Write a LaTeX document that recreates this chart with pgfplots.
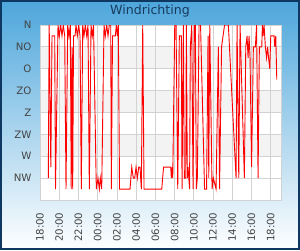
\documentclass[border=0pt]{standalone}
\usepackage{pgfplots}
\pgfplotsset{compat=1.18}
\usepackage{fontspec}
\setmainfont{DejaVu Sans}
\definecolor{ttl}{RGB}{24,58,94}
\definecolor{frame}{RGB}{14,56,98}
\definecolor{bgtop}{RGB}{77,166,219}
\definecolor{gridc}{RGB}{210,210,210}
\definecolor{band}{RGB}{243,243,243}
\definecolor{lbl}{RGB}{68,68,68}
\pgfplotstableread{
h deg
0.864 315
0.957 0
1.124 292.5
1.249 22.5
1.530 22.5
1.613 337.5
1.873 0
2.008 22.5
2.154 0
2.289 22.5
2.425 0
2.570 22.5
2.706 337.5
2.882 0
3.018 22.5
3.153 0
3.247 337.5
3.330 45
3.403 337.5
3.486 22.5
3.642 22.5
3.746 0
3.881 22.5
4.027 0
4.162 22.5
4.298 337.5
4.443 0
4.579 22.5
4.714 0
4.860 22.5
4.995 0
5.130 337.5
5.307 0
5.442 22.5
5.567 0
5.858 337.5
6.035 315
6.171 337.5
6.275 315
6.420 337.5
6.660 0
6.795 22.5
6.941 0
7.076 22.5
7.211 0
7.357 0
7.419 337.5
7.544 22.5
7.836 22.5
7.940 0
8.044 22.5
8.148 0
8.273 337.5
9.365 337.5
9.542 292.5
9.709 315
9.854 315
9.990 292.5
10.125 315
10.271 292.5
10.406 292.5
10.541 337.5
10.687 0
10.822 337.5
12.664 337.5
12.851 292.5
13.600 292.5
13.663 315
13.736 292.5
13.809 315
14.017 0
14.152 0
14.329 337.5
14.495 22.5
14.703 22.5
14.776 337.5
14.911 0
15.016 315
15.161 315
15.224 0
15.328 315
15.401 292.5
15.557 337.5
15.640 45
15.786 0
15.921 337.5
16.056 0
16.160 0
16.264 337.5
16.368 315
16.545 0
16.701 0
17.118 337.5
17.326 337.5
17.482 22.5
17.555 315
17.659 0
17.898 337.5
18.033 315
18.314 337.5
18.554 45
18.678 337.5
18.887 45
19.043 22.5
19.199 0
19.594 0
20.395 315
20.499 0
20.677 315
20.812 0
21.259 315
21.405 45
21.540 22.5
21.644 67.5
21.748 22.5
21.852 67.5
22.008 292.5
22.196 45
22.404 45
22.529 0
22.685 315
22.820 45
23.070 45
23.132 0
23.205 22.5
23.309 0
23.444 45
23.569 67.5
23.673 45
23.777 67.5
23.902 90
24.006 22.5
24.350 22.5
24.423 45
24.527 22.5
24.631 112.5
}\winddata
\pgfplotsset{common/.style={
  at={(40pt,50pt)}, anchor=south west,
  width=241pt, height=175pt, scale only axis,
  xmin=0, xmax=25.07, ymin=0, ymax=360, y dir=reverse}}
\begin{document}
\begin{tikzpicture}
\useasboundingbox (0pt,0pt) rectangle (300pt,250pt);
\shade[top color=bgtop, bottom color=white] (0pt,0pt) rectangle (300pt,250pt);
\draw[frame, line width=2pt] (1pt,1pt) rectangle (299pt,249pt);
\node[ttl, font=\fontsize{12.6}{14}\selectfont] at (150pt,238.5pt) {Windrichting};
\begin{axis}[common, hide axis, axis background/.style={fill=white}]
\addplot[fill=band, draw=none] coordinates {(0,45) (25.07,45) (25.07,90) (0,90)} -- cycle;
\addplot[fill=band, draw=none] coordinates {(0,135) (25.07,135) (25.07,180) (0,180)} -- cycle;
\addplot[fill=band, draw=none] coordinates {(0,225) (25.07,225) (25.07,270) (0,270)} -- cycle;
\end{axis}
\begin{axis}[
  common,
  axis line style={gridc},
  major tick length=0pt,
  grid=major, major grid style={gridc, line width=0.8pt},
  ytick={0,45,90,135,180,225,270,315},
  yticklabels={N,NO,O,ZO,Z,ZW,W,NW},
  xtick={0,2,4,6,8,10,12,14,16,18,20,22,24},
  xticklabels={18:00,20:00,22:00,00:00,02:00,04:00,06:00,08:00,10:00,12:00,14:00,16:00,18:00},
  ticklabel style={lbl, font=\fontsize{10.2}{12}\selectfont},
  xticklabel style={rotate=90, anchor=east},
  xticklabel shift=9pt,
  yticklabel shift=5pt,
]
\addplot[red, line width=0.9pt, mark=none] table[x=h, y=deg] {\winddata};
\end{axis}
\end{tikzpicture}
\end{document}
